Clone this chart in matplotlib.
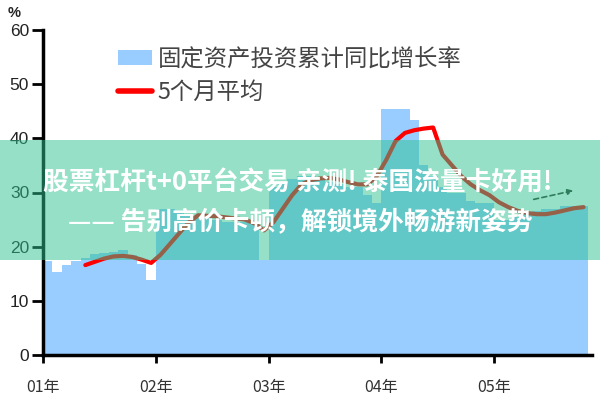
import matplotlib
matplotlib.use("Agg")
import matplotlib.pyplot as plt
from matplotlib.patches import Rectangle, Patch, FancyArrowPatch
from matplotlib.lines import Line2D
import numpy as np

plt.rcParams['font.family'] = ['Noto Sans CJK SC', 'DejaVu Sans']

# Monthly cumulative YoY growth of fixed-asset investment (%), 58 months
bar_values = [
    17.3, 15.4, 16.6, 17.3, 18.0, 18.6, 18.8, 19.0, 19.3, 18.5, 16.8, 13.8,   # 01
    27.0, 27.0, 26.5, 26.0, 25.5, 25.5, 25.0, 24.5, 24.5, 24.5, 24.5, 17.5,   # 02
    31.0, 32.0, 32.5, 33.0, 33.0, 32.5, 32.0, 31.5, 31.0, 31.0, 29.5, 28.0,   # 03
    45.5, 45.5, 45.5, 43.3, 35.0, 33.0, 31.0, 30.0, 30.0, 28.5, 28.0, 28.0,   # 04
    25.0, 25.0, 25.5, 26.0, 26.5, 27.0, 27.0, 27.5, 27.5, 27.5,               # 05
]
# 5-month average, starting at month index 4
avg_start = 4
avg_values = [
    16.6, 17.2, 17.8, 18.2, 18.3, 18.1, 17.6, 17.0,
    18.5, 20.5, 22.5, 24.5, 25.8, 25.7, 25.6, 25.4, 25.2, 25.0, 24.3, 23.0,
    24.5, 27.0, 29.5, 31.5, 32.3, 32.6, 32.7, 32.4, 31.9, 31.5, 31.5, 33.0,
    36.0, 39.5, 41.0, 41.5, 41.8, 42.0, 37.0, 35.0, 33.0, 31.5, 30.4, 29.5,
    28.2, 27.3, 26.6, 26.2, 26.0, 26.0, 26.3, 26.7, 27.1, 27.3,
]
year_labels = ["01年", "02年", "03年", "04年", "05年"]
y_ticks = [0, 10, 20, 30, 40, 50, 60]
legend_labels = ["固定资产投资累计同比增长率", "5个月平均"]
banner_lines = ["股票杠杆t+0平台交易 亲测! 泰国流量卡好用!",
                "—— 告别高价卡顿，解锁境外畅游新姿势"]

fig = plt.figure(figsize=(6, 4), dpi=100)
ax = fig.add_axes([0.0717, 0.1125, 0.915, 0.8125])

n = len(bar_values)
x = np.arange(n)
ax.bar(x + 0.5, bar_values, width=1.0, color="#99CCFF", edgecolor="none", zorder=1)
xa = np.arange(len(avg_values)) + avg_start + 0.5
ax.plot(xa, avg_values, color="#FF0000", lw=3, solid_capstyle="round", zorder=2)

ax.set_xlim(0, n + 0.4)
ax.set_ylim(0, 60)
ax.set_yticks(y_ticks)
ax.set_yticklabels([str(v) for v in y_ticks], fontsize=12.5, color="#222222",
                   family=["Liberation Sans", "DejaVu Sans"])
ax.set_xticks([12 * i for i in range(len(year_labels))])
ax.set_xticklabels(year_labels, fontsize=11.5, color="#333333")
ax.tick_params(axis="both", direction="out", width=2, color="black")
ax.tick_params(axis="x", length=6, pad=11)
ax.tick_params(axis="y", length=8, pad=2)
for s in ["top", "right"]:
    ax.spines[s].set_visible(False)
ax.spines["left"].set_linewidth(2.5)
ax.spines["bottom"].set_linewidth(2.5)

fig.text(0.012, 0.967, "%", fontsize=10.5, color="#222222", ha="left", va="center",
         fontweight="bold", family=["Liberation Sans", "DejaVu Sans"])

handles = [Patch(facecolor="#99CCFF", edgecolor="none"),
           Line2D([0], [0], color="#FF0000", lw=4, solid_capstyle="round")]
leg = ax.legend(handles, legend_labels, loc="upper left", bbox_to_anchor=(0.12, 0.973),
                frameon=False, fontsize=16.8, handlelength=1.45, handleheight=0.6,
                handletextpad=0.25, labelspacing=0.4, borderaxespad=0)
for t in leg.get_texts():
    t.set_color("#444444")

# overlay banner
fig.patches.append(Rectangle((0, 0.35), 1, 0.30, transform=fig.transFigure,
                             facecolor="#2DC391", alpha=0.5, edgecolor="none", zorder=5))
fig.text(0.496, 0.543, banner_lines[0], fontsize=18.5, fontweight="bold", color="white",
         ha="center", va="center", zorder=6)
fig.text(0.50, 0.445, banner_lines[1], fontsize=18.5, fontweight="bold", color="white",
         ha="center", va="center", zorder=6)
fig.patches.append(FancyArrowPatch(
    (0.885, 0.50), (0.96, 0.525), transform=fig.transFigure, arrowstyle="-|>",
    mutation_scale=8, color="#2E7D5B", lw=1.2, linestyle=(0, (3, 2)), zorder=6))

fig.savefig("out.png", dpi=100)
